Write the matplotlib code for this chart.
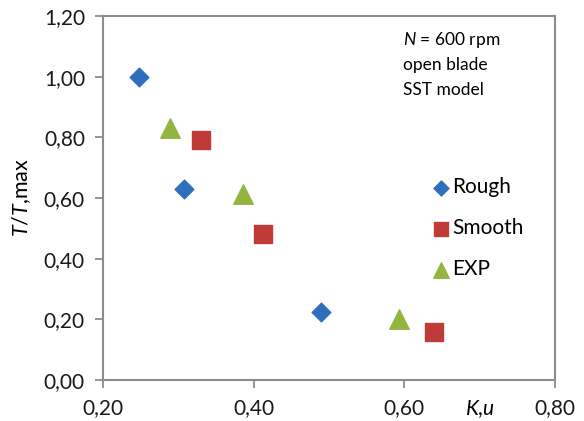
import numpy as np
import matplotlib
matplotlib.use("Agg")
import matplotlib.pyplot as plt

plt.rcParams["font.family"] = ["Lato", "DejaVu Sans"]
plt.rcParams["mathtext.fontset"] = "custom"
plt.rcParams["mathtext.rm"] = "Lato"
plt.rcParams["mathtext.it"] = "Lato:italic"

BLUE, RED, GREEN, FRAME = "#2F6EBA", "#BE3B37", "#93B540", "#8C8C8C"

# --- data ---
rough_x = [0.248, 0.308, 0.489]
rough_y = [1.00, 0.63, 0.225]
smooth_x = [0.330, 0.413, 0.640]
smooth_y = [0.79, 0.48, 0.157]
exp_x = [0.289, 0.386, 0.593]
exp_y = [0.83, 0.613, 0.20]

xticks = [0.20, 0.40, 0.60, 0.80]
yticks = [0.00, 0.20, 0.40, 0.60, 0.80, 1.00, 1.20]

fig = plt.figure(figsize=(5.84, 4.21), dpi=100)
ax = fig.add_axes([103 / 584, 41 / 421, 452 / 584, 364 / 421])

ax.scatter(rough_x, rough_y, marker="D", s=9.5 ** 2, color=BLUE, label="Rough", zorder=3)
ax.scatter(smooth_x, smooth_y, marker="s", s=13 ** 2, color=RED, label="Smooth", zorder=3)
ax.scatter(exp_x, exp_y, marker="^", s=14 ** 2, color=GREEN, label="EXP", zorder=3)

ax.set_xlim(0.2, 0.8)
ax.set_ylim(0, 1.2)
ax.set_xticks(xticks)
ax.set_yticks(yticks)
ax.set_xticklabels([f"{v:.2f}".replace(".", ",") for v in xticks])
ax.set_yticklabels([f"{v:.2f}".replace(".", ",") for v in yticks])
ax.tick_params(labelsize=15, labelcolor="#1a1a1a", length=6, width=1.3,
               color=FRAME, direction="out", pad=7)
for sp in ax.spines.values():
    sp.set_color(FRAME)
    sp.set_linewidth(1.5)

ax.set_ylabel("$T$/$T$,max", fontsize=15.5)
ax.yaxis.set_label_coords(-0.155, 0.5)
fig.text(480 / 584, 1 - 409 / 421, "$K$,$u$", fontsize=15, ha="center", va="center")

fig.text(403 / 584, 1 - 40 / 421, "$N$ = 600 rpm", fontsize=12.5, va="center")
fig.text(403 / 584, 1 - 65 / 421, "open blade", fontsize=12.5, va="center")
fig.text(403 / 584, 1 - 90 / 421, "SST model", fontsize=12.5, va="center")

ax.legend(loc="upper left", bbox_to_anchor=(422 / 584, 1 - 167 / 421),
          bbox_transform=fig.transFigure, frameon=False, fontsize=15,
          handlelength=0.8, handletextpad=0.15, labelspacing=1.0,
          markerscale=0.8, borderpad=0)

fig.savefig("out.png", dpi=100)
